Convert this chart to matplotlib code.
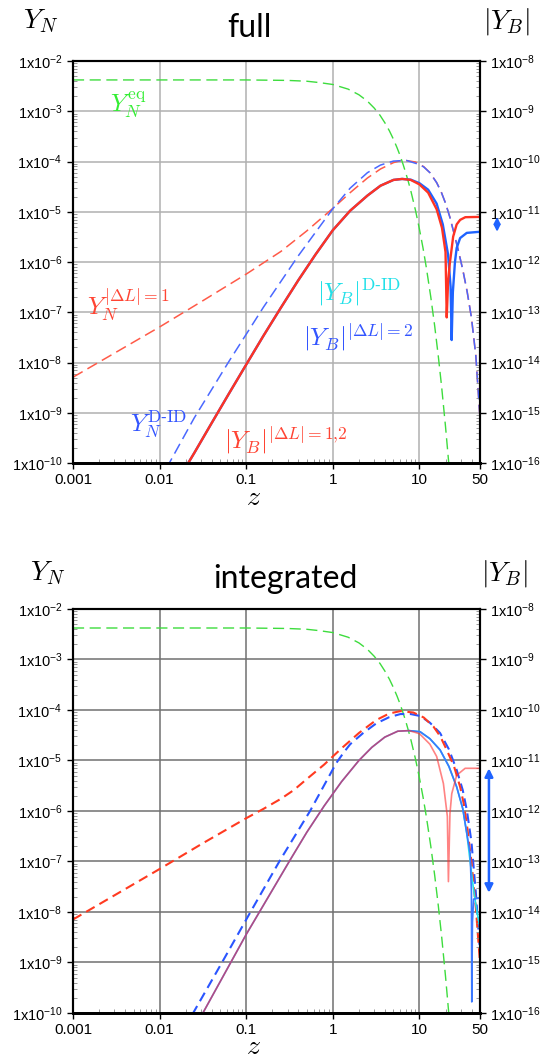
import numpy as np
import matplotlib
matplotlib.use('Agg')
import matplotlib.pyplot as plt
from matplotlib.ticker import FixedLocator, LogLocator, NullFormatter, FuncFormatter

plt.rcParams['font.family'] = ['Liberation Sans', 'DejaVu Sans']
plt.rcParams['mathtext.fontset'] = 'dejavusans'
plt.rcParams['lines.scale_dashes'] = False

# --- equilibrium abundance (same in both panels) ---
z_eq = [0.001, 0.1, 0.3, 0.5, 0.7, 1, 1.5, 2, 2.5, 3, 3.5, 4, 4.5, 5, 5.5, 6, 6.5, 7, 7.5, 8, 9,
        10, 11, 12, 13.5, 15, 16.5, 18, 20, 22]
y_eq = [4.2e-3, 4.2e-3, 4.11e-3, 3.96e-3, 3.72e-3, 3.41e-3, 2.76e-3, 2.13e-3, 1.595e-3, 1.16e-3,
        8.35e-4, 5.85e-4, 4.07e-4, 2.79e-4, 1.9e-4, 1.29e-4, 8.57e-5, 5.7e-5, 3.78e-5, 2.49e-5,
        1.07e-5, 4.5e-6, 1.89e-6, 7.8e-7, 2.04e-7, 5.3e-8, 1.34e-8, 3.4e-9, 5.3e-10, 8.3e-11]

# --- "full" panel ---
full_z_yn1 = [0.001, 0.01, 0.0316, 0.1, 0.251, 0.501, 1.0, 1.585, 2.51, 3.55, 5.01, 6.46, 8.91,
              11.2, 13.2, 15.8, 17.8, 20.0, 22.4, 25.1, 28.2, 31.6, 35.5, 39.8, 44.7, 50]
full_yn1 = [5.1e-9, 5.1e-8, 1.7e-7, 5.75e-7, 1.62e-6, 4.17e-6, 1.17e-5, 2.4e-5, 4.7e-5, 7.1e-5,
            9.5e-5, 1.07e-4, 9.8e-5, 7.9e-5, 6.0e-5, 3.8e-5, 2.5e-5, 1.48e-5, 7.9e-6, 3.7e-6,
            1.66e-6, 7.1e-7, 2.6e-7, 7.9e-8, 1.4e-8, 7.9e-10]

full_z_ynd = [0.012, 0.0251, 0.0631, 0.158, 0.398, 1.0, 1.585, 2.51, 3.55, 5.01, 7.08, 10, 11.2,
              13.2, 15.8, 17.8, 20.0, 22.4, 25.1, 28.2, 31.6, 35.5, 39.8, 44.7, 50]
full_ynd = [7.9e-11, 7.9e-10, 1.05e-8, 1.26e-7, 1.32e-6, 1.15e-5, 2.95e-5, 6.0e-5, 8.5e-5, 1.02e-4,
            1.05e-4, 8.7e-5, 7.8e-5, 6.0e-5, 3.8e-5, 2.5e-5, 1.48e-5, 7.9e-6, 3.7e-6, 1.66e-6,
            7.1e-7, 2.6e-7, 7.9e-8, 1.4e-8, 7.9e-10]

full_z_yb12 = [0.019, 0.0251, 0.0398, 0.0631, 0.1, 0.158, 0.251, 0.398, 0.631, 1.0, 1.585, 2.51,
               3.55, 5.01, 6.31, 7.94, 10, 12.6, 15.8, 18.2, 20.0, 20.65, 21.4, 22.4, 24.5, 26.9,
               29.5, 33.9, 50]
full_yb12 = [7.1e-17, 1.58e-16, 6.2e-16, 2.4e-15, 9.1e-15, 3.4e-14, 1.23e-13, 4.3e-13, 1.41e-12,
             4.3e-12, 1.05e-11, 2.1e-11, 3.3e-11, 4.3e-11, 4.5e-11, 4.3e-11, 3.5e-11, 2.4e-11,
             1.12e-11, 4.8e-12, 1.58e-12, 7.9e-14, 4e-13, 9.3e-13, 3.2e-12, 5.6e-12, 6.9e-12,
             7.8e-12, 7.9e-12]

full_z_yb2 = [0.019, 0.0251, 0.0398, 0.0631, 0.1, 0.158, 0.251, 0.398, 0.631, 1.0, 1.585, 2.51,
              3.55, 5.01, 6.31, 7.94, 10, 12.6, 15.8, 18.6, 21.4, 22.9, 23.55, 24.3, 25.7, 26.9,
              29.5, 35.2, 50]
full_yb2 = [7.1e-17, 1.58e-16, 6.2e-16, 2.4e-15, 9.1e-15, 3.4e-14, 1.23e-13, 4.3e-13, 1.41e-12,
            4.3e-12, 1.05e-11, 2.1e-11, 3.3e-11, 4.3e-11, 4.5e-11, 4.35e-11, 3.7e-11, 2.75e-11,
            1.45e-11, 5.6e-12, 1.4e-12, 3.2e-13, 2.8e-14, 2.5e-13, 1e-12, 1.9e-12, 3.0e-12,
            3.8e-12, 4e-12]

# --- "integrated" panel ---
int_z_yn1 = [0.001, 0.01, 0.0316, 0.1, 0.158, 0.251, 0.355, 0.501, 0.794, 1.26, 2.0, 3.16, 4.47,
             6.03, 8.51, 11.2, 14.5, 17.4, 20.65, 25.1, 29.5, 32.4, 35.2, 39.8, 44.7, 50]
int_yn1 = [7.1e-9, 7.1e-8, 2.3e-7, 7.2e-7, 1.1e-6, 1.74e-6, 2.6e-6, 4.3e-6, 8.3e-6, 1.74e-5,
           3.5e-5, 6.3e-5, 8.5e-5, 9.5e-5, 8.9e-5, 7.1e-5, 4.7e-5, 3.0e-5, 1.62e-5, 7.6e-6,
           3.0e-6, 1.41e-6, 5.6e-7, 1e-7, 1.26e-8, 1e-9]

int_z_ynd = [0.02, 0.0244, 0.0525, 0.112, 0.245, 0.546, 1.096, 1.32, 1.585, 2.24, 3.16, 4.47,
             6.03, 7.94, 10.2, 13.2, 17.3, 21.9, 26.9, 31.6, 35.2, 39.8, 44.7, 50]
int_ynd = [5e-11, 1e-10, 1e-9, 1e-8, 1.05e-7, 1e-6, 8.9e-6, 1.4e-5, 2.1e-5, 3.5e-5, 5.4e-5,
           7.2e-5, 8.3e-5, 8.3e-5, 7.6e-5, 5.6e-5, 3.5e-5, 1.66e-5, 6.5e-6, 2.6e-6, 1.05e-6,
           2.5e-7, 2.5e-8, 1.6e-9]

int_z_yb12 = [0.0282, 0.0316, 0.1, 0.321, 0.501, 0.794, 1.26, 2.0, 2.82, 3.98, 5.62, 7.59, 10,
              13.2, 15.8, 18.9, 21.0, 21.6, 22.5, 23.6, 26.9, 33.7, 50]
int_yb12 = [7.1e-17, 1e-16, 3.6e-15, 1.07e-13, 3.8e-13, 1.26e-12, 3.8e-12, 1e-11, 1.82e-11,
            2.9e-11, 3.8e-11, 3.9e-11, 3.4e-11, 2.1e-11, 1.2e-11, 3.5e-12, 7.8e-13, 4e-14,
            8.9e-13, 2.2e-12, 5.1e-12, 7e-12, 7e-12]

int_z_yb2 = [0.0282, 0.0316, 0.1, 0.321, 0.501, 0.794, 1.26, 2.0, 2.82, 3.98, 5.62, 7.59, 10.2,
             13.2, 17.3, 21.9, 26.9, 31.6, 35.2, 38.5, 39.8, 40.2, 40.9, 42.2, 50]
int_yb2 = [7.1e-17, 1e-16, 3.6e-15, 1.07e-13, 3.8e-13, 1.26e-12, 3.8e-12, 1e-11, 1.82e-11,
           2.9e-11, 3.8e-11, 3.9e-11, 3.7e-11, 2.7e-11, 1.62e-11, 7.6e-12, 3.0e-12, 1.12e-12,
           3.6e-13, 1.45e-13, 2.5e-14, 1.66e-16, 6.3e-15, 1.8e-14, 1.9e-14]

int_z_ybd = [7.59, 10.2, 13.2, 17.3, 21.9, 26.9, 31.6, 35.2, 41.7, 45.7, 50]
int_ybd = [3.9e-11, 3.7e-11, 2.7e-11, 1.62e-11, 7.6e-12, 3.0e-12, 1.12e-12, 3.6e-13, 3.2e-14,
           1.1e-14, 5e-15]

xticks = [0.001, 0.01, 0.1, 1, 10, 50]
xtick_labels = ['0.001', '0.01', '0.1', '1', '10', '50']

RED = '#ff3322'
RED_D = '#ff5a48'
BLUE = '#1f63ff'
BLUE_D = '#4a68ff'
GREEN = '#3ddc3d'
CYAN = '#22e0e8'


def dec_fmt(v, pos):
    return r'$\mathregular{1x10^{%d}}$' % int(round(np.log10(v)))


def setup(ax, grid_color):
    ax.set_xscale('log')
    ax.set_yscale('log')
    ax.set_xlim(1e-3, 50)
    ax.set_ylim(1e-10, 1e-2)
    ax2 = ax.twinx()
    ax2.set_yscale('log')
    ax2.set_ylim(1e-16, 1e-8)
    ax.xaxis.set_major_locator(FixedLocator(xticks))
    ax.set_xticklabels(xtick_labels)
    ax.xaxis.set_minor_locator(LogLocator(base=10, subs=np.arange(2, 10), numticks=100))
    ax.xaxis.set_minor_formatter(NullFormatter())
    for a, lo, hi in ((ax, -10, -2), (ax2, -16, -8)):
        a.yaxis.set_major_locator(FixedLocator([10.0 ** e for e in range(lo, hi + 1)]))
        a.yaxis.set_major_formatter(FuncFormatter(dec_fmt))
        a.yaxis.set_minor_locator(LogLocator(base=10, subs=np.arange(2, 10), numticks=100))
        a.yaxis.set_minor_formatter(NullFormatter())
        a.tick_params(which='major', direction='out', length=4, width=1, labelsize=10.5,
                      colors='black')
        a.tick_params(which='minor', direction='in', length=3, width=0.6, color='#888888')
        for s in a.spines.values():
            s.set_linewidth(1.5)
        a.spines['bottom'].set_linewidth(2)
    ax.tick_params(axis='x', which='major', labelsize=11, pad=3)
    ax.grid(True, which='major', color=grid_color, lw=1.1)
    ax.set_axisbelow(True)
    return ax2


fig = plt.figure(figsize=(5.46, 10.61), dpi=100)
ax_top = fig.add_axes([0.1337, 0.5636, 0.7454, 0.3789])
ax_bot = fig.add_axes([0.1337, 0.04524, 0.7454, 0.3808])

# ---------- full ----------
ax2 = setup(ax_top, '#b0b0b0')
ax_top.plot(z_eq, y_eq, color=GREEN, lw=1.0, dashes=(8, 4))
ax_top.plot(full_z_yn1, full_yn1, color=RED_D, lw=1.1, dashes=(8, 4))
ax_top.plot(full_z_ynd, full_ynd, color=BLUE_D, lw=1.1, dashes=(8, 4))
ax2.plot(full_z_yb2, full_yb2, color=BLUE, lw=1.7)
ax2.plot(full_z_yb12, full_yb12, color=RED, lw=1.7)
ax2.annotate('', xy=(1.042, 7.9e-12), xytext=(1.042, 4e-12),
             xycoords=('axes fraction', 'data'), textcoords=('axes fraction', 'data'),
             arrowprops=dict(arrowstyle='<|-|>', color=BLUE, lw=1.5, mutation_scale=9,
                             shrinkA=0, shrinkB=0), annotation_clip=False)

lab = dict(math_fontfamily='cm', fontsize=18, ha='center', va='center')
ax_top.text(0.0043, 1.33e-3, r'$Y_N^{\rm eq}$', color='#33ee33', **lab)
ax_top.text(0.0043, 1.38e-7, r'$Y_N^{|\Delta L|=1}$', color='#ff4433', **lab)
ax_top.text(2.0, 2.5e-7, '$|Y_B|^{\\rm D\u2010ID}$', color=CYAN, **lab)
ax_top.text(1.95, 3.2e-8, r'$|Y_B|^{|\Delta L|=2}$', color='#3355ff', **lab)
ax_top.text(0.0098, 5.8e-10, '$Y_N^{\\rm D\u2010ID}$', color='#3355ff', **lab)
ax_top.text(0.29, 2.9e-10, r'$|Y_B|^{|\Delta L|=1{,}2}$', color='#ff4433', **lab)

# ---------- integrated ----------
ax2b = setup(ax_bot, '#707070')
ax_bot.plot(z_eq, y_eq, color=GREEN, lw=1.0, dashes=(8, 4))
ax_bot.plot(int_z_ynd, int_ynd, color='#2a55ff', lw=1.5, dashes=(7, 4))
ax_bot.plot(int_z_yn1, int_yn1, color='#ff3a20', lw=1.5, dashes=(7, 4))
ax2b.plot(int_z_ybd, int_ybd, color=CYAN, lw=1.2)
ax2b.plot(int_z_yb2, int_yb2, color='#3a78ff', lw=1.2)
ax2b.plot(int_z_yb12, int_yb12, color='#ff3030', lw=1.2, alpha=0.6)
ax2b.annotate('', xy=(1.022, 7e-12), xytext=(1.022, 2.4e-14),
              xycoords=('axes fraction', 'data'), textcoords=('axes fraction', 'data'),
              arrowprops=dict(arrowstyle='<|-|>', color=BLUE, lw=1.8, mutation_scale=12,
                              shrinkA=0, shrinkB=0), annotation_clip=False)

# ---------- titles and axis names ----------
fig.text(0.457, 0.965, 'full', fontsize=23, family=['Lato', 'DejaVu Sans'], ha='center',
         va='baseline')
fig.text(0.522, 0.446, 'integrated', fontsize=23, family=['Lato', 'DejaVu Sans'], ha='center',
         va='baseline')
big = dict(math_fontfamily='cm', fontsize=20, ha='center', va='baseline')
fig.text(0.075, 0.9736, r'$Y_N$', **big)
fig.text(0.927, 0.9736, r'$|Y_B|$', **big)
fig.text(0.088, 0.453, r'$Y_N$', **big)
fig.text(0.923, 0.453, r'$|Y_B|$', **big)
fig.text(0.465, 1 - 505 / 1061, r'$z$', **big)
fig.text(0.465, 1 - 1054 / 1061, r'$z$', **big)

fig.savefig('out.png', dpi=100)
